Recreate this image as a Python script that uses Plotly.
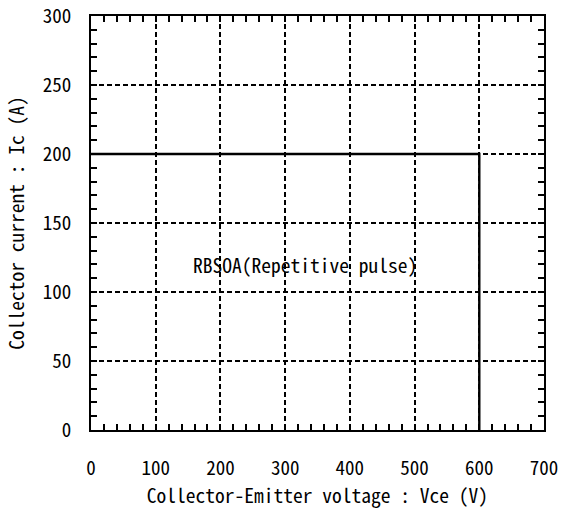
import plotly.graph_objects as go

vce = [0, 600, 600]
ic = [200, 200, 0]
label_text = "RBSOA(Repetitive pulse)"
label_x = 331
label_y = 120
x_ticks = [0, 100, 200, 300, 400, 500, 600, 700]
y_ticks = [0, 50, 100, 150, 200, 250, 300]

mono = "Noto Sans Mono CJK JP, Liberation Mono, monospace"
tick_font = dict(family=mono, size=19, color="black")
title_font = dict(family=mono, size=19.5, color="black")

fig = go.Figure()
fig.add_trace(go.Scatter(x=vce, y=ic, mode="lines", line=dict(color="black", width=2.4), showlegend=False))
fig.add_annotation(x=label_x, y=label_y, text=label_text, showarrow=False,
                   font=dict(family=mono, size=19.5, color="black"),
                   bgcolor="rgba(0,0,0,0)")

axis_common = dict(
    showline=True, linecolor="black", linewidth=2, mirror="ticks",
    ticks="inside", ticklen=6, tickwidth=1.5, tickcolor="black",
    showgrid=True, gridcolor="black", gridwidth=1.8, griddash="5px,3px",
    zeroline=False, tickfont=tick_font, automargin=False,
)

fig.update_xaxes(range=[0, 700], tickvals=x_ticks, ticktext=[str(v) for v in x_ticks],
                 minor=dict(dtick=20, ticks="inside", ticklen=6, tickwidth=1.5, tickcolor="black", showgrid=False),
                 ticklabelstandoff=20,
                 title=dict(text="Collector-Emitter voltage : Vce (V)", font=title_font, standoff=9),
                 **axis_common)
fig.update_yaxes(range=[0, 300], tickvals=y_ticks, ticktext=[str(v) for v in y_ticks],
                 minor=dict(dtick=10, ticks="inside", ticklen=6, tickwidth=1.5, tickcolor="black", showgrid=False),
                 ticklabelstandoff=14,
                 title=dict(text="Collector current : Ic (A)", font=title_font, standoff=13),
                 **axis_common)

fig.update_layout(width=562, height=515, margin=dict(l=91, r=18, t=16, b=85),
                  plot_bgcolor="white", paper_bgcolor="white")
fig.write_html("out.html", config={"displayModeBar": False},
               post_script="document.body.style.margin='0';document.body.style.overflow='hidden';")
